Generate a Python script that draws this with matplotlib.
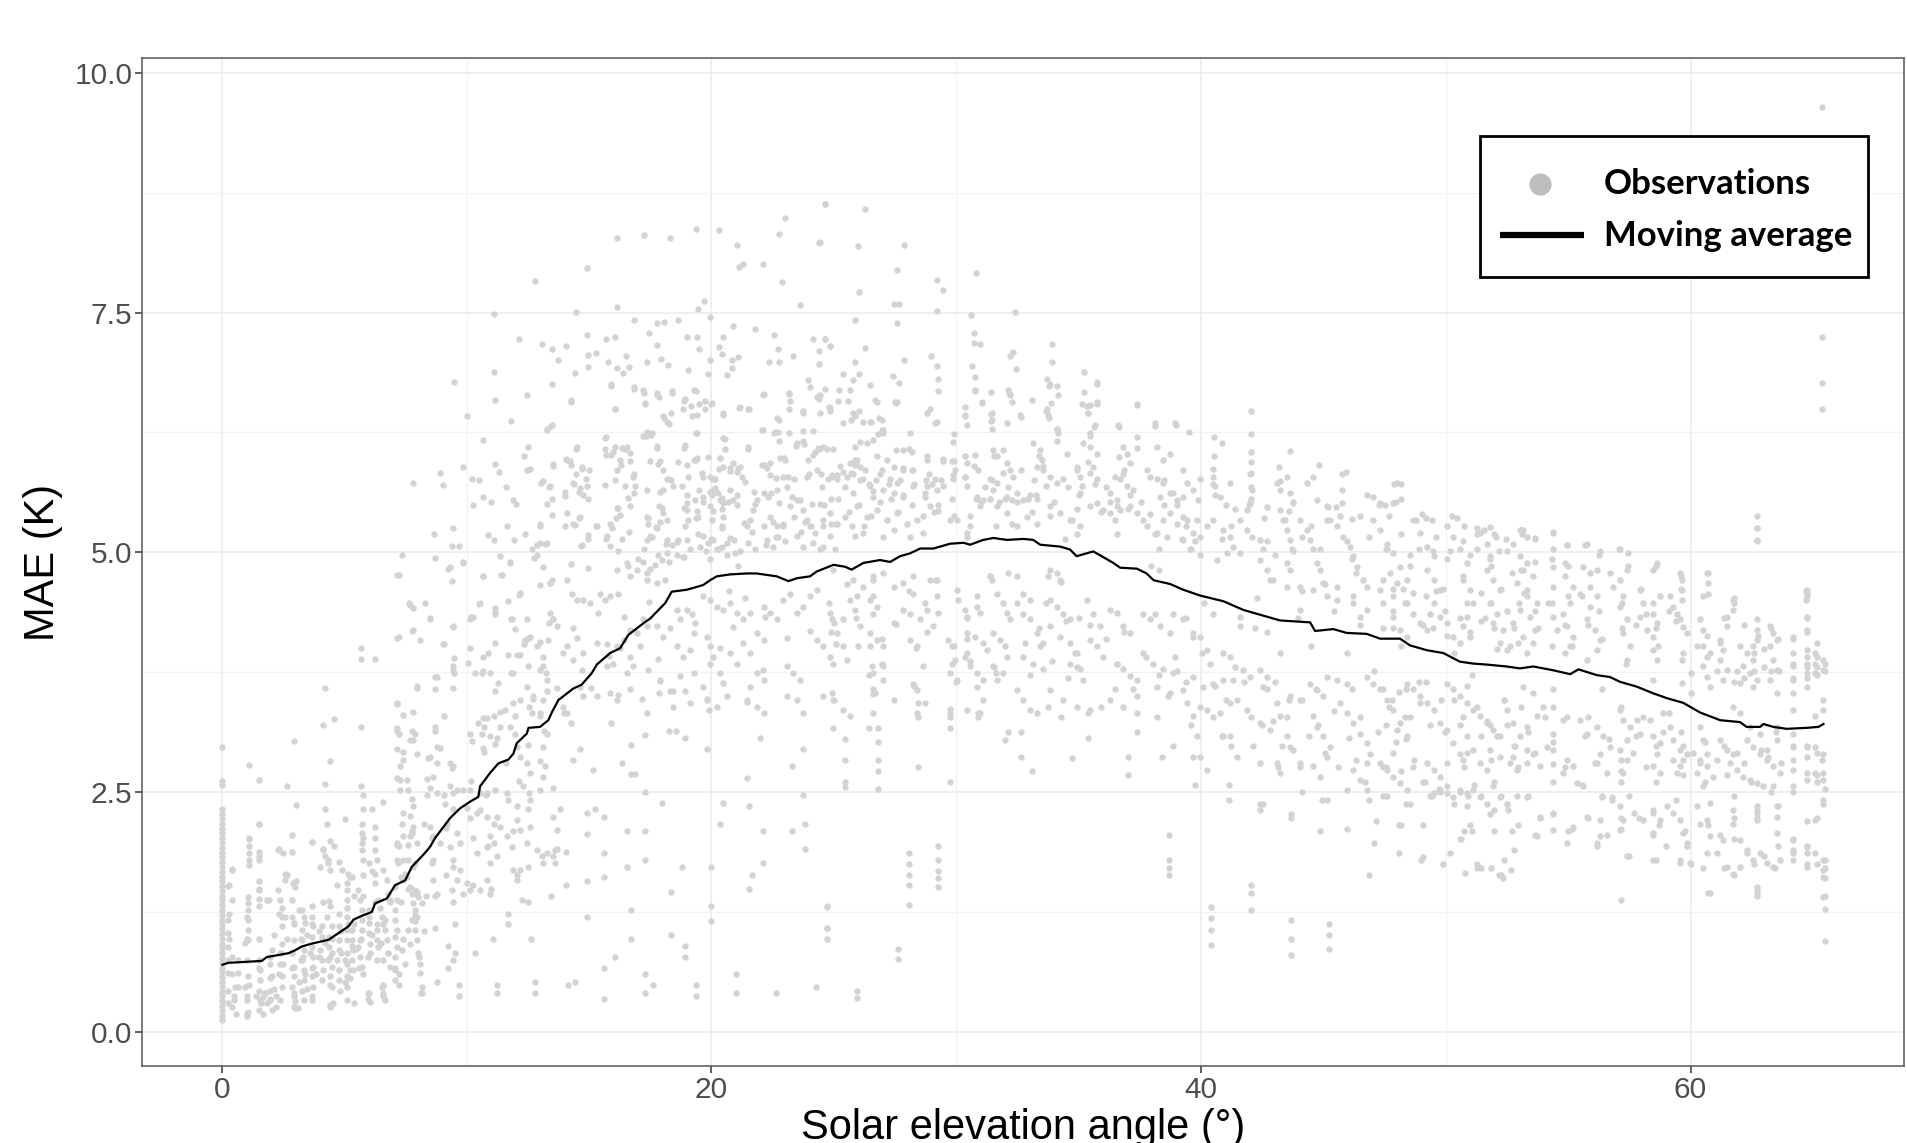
import numpy as np
import matplotlib
matplotlib.use("Agg")
import matplotlib.pyplot as plt
from matplotlib.lines import Line2D
from matplotlib.patches import Rectangle

# --- moving average ---
ma_x = [0.03, 0.27, 1.0, 1.63, 1.84, 2.72, 2.99, 3.27, 3.67, 4.36, 4.77, 5.17, 5.38, 5.72,
        6.13, 6.26, 6.74, 7.08, 7.49, 7.76, 8.28, 8.51, 8.71, 9.33, 9.73, 10.14, 10.48, 10.55,
        10.96, 11.3, 11.71, 11.91, 12.05, 12.46, 12.53, 13.0, 13.34, 13.48, 13.75, 14.36, 14.7,
        15.11, 15.32, 15.86, 16.27, 16.61, 17.22, 17.5, 17.84, 18.11, 18.38, 18.99, 19.27,
        19.67, 19.95, 20.22, 20.76, 21.44, 21.85, 22.67, 23.15, 23.49, 24.03, 24.3, 24.99,
        25.46, 25.73, 26.21, 26.89, 27.3, 27.71, 28.12, 28.53, 29.07, 29.75, 30.3, 30.57,
        31.11, 31.52, 32.07, 32.75, 33.15, 33.43, 34.25, 34.65, 34.92, 35.6, 36.42, 36.7,
        37.38, 37.78, 38.06, 38.74, 39.28, 39.96, 40.92, 41.73, 42.69, 43.23, 44.46, 44.66,
        45.41, 45.95, 46.77, 47.32, 48.13, 48.54, 49.22, 49.9, 50.58, 51.13, 51.67, 52.49,
        53.03, 53.58, 54.4, 55.08, 55.42, 56.17, 56.71, 57.12, 57.8, 58.48, 59.03, 59.71,
        60.39, 61.21, 62.02, 62.29, 62.84, 62.98, 63.38, 63.93, 64.74, 65.22, 65.43]
ma_y = [0.70, 0.72, 0.73, 0.74, 0.78, 0.82, 0.85, 0.89, 0.92, 0.96, 1.03, 1.10, 1.17, 1.21,
        1.25, 1.34, 1.39, 1.53, 1.58, 1.72, 1.86, 1.93, 2.02, 2.23, 2.33, 2.40, 2.45, 2.56,
        2.70, 2.80, 2.84, 2.90, 3.01, 3.11, 3.17, 3.18, 3.25, 3.33, 3.46, 3.58, 3.62,
        3.74, 3.83, 3.95, 4.00, 4.14, 4.26, 4.31, 4.40, 4.47, 4.59, 4.61, 4.63,
        4.66, 4.71, 4.75, 4.77, 4.78, 4.78, 4.75, 4.70, 4.73, 4.75, 4.80, 4.87,
        4.85, 4.82, 4.89, 4.92, 4.90, 4.96, 4.99, 5.04, 5.04, 5.09, 5.10, 5.08,
        5.13, 5.15, 5.13, 5.14, 5.13, 5.08, 5.06, 5.03, 4.96, 5.01, 4.89, 4.84,
        4.83, 4.78, 4.71, 4.67, 4.61, 4.55, 4.49, 4.40, 4.33, 4.29, 4.27, 4.18,
        4.20, 4.16, 4.15, 4.10, 4.10, 4.03, 3.98, 3.95, 3.86, 3.84, 3.83, 3.81,
        3.79, 3.81, 3.77, 3.73, 3.78, 3.72, 3.70, 3.65, 3.60, 3.53, 3.48, 3.43,
        3.33, 3.25, 3.23, 3.18, 3.18, 3.21, 3.18, 3.16, 3.17, 3.18, 3.21]

# --- observations: the solid streak at 0 degrees ---
obs_zero_y = [0.12, 0.17, 0.22, 0.27, 0.32, 0.37, 0.42, 0.47, 0.52, 0.57, 0.62, 0.67, 0.72,
              0.77, 0.82, 0.87, 0.92, 0.97, 1.02, 1.07, 1.12, 1.17, 1.22, 1.27, 1.32, 1.37,
              1.42, 1.47, 1.52, 1.57, 1.62, 1.67, 1.72, 1.77, 1.82, 1.87, 1.92, 1.97, 2.02,
              2.07, 2.12, 2.17, 2.22, 2.27, 2.32, 2.57, 2.62, 2.97]

# --- observations (x, y) by region of the plot ---
obs_upper_left = [
    (24.66, 8.63), (23.01, 8.49), (19.36, 8.37), (20.31, 8.36), (16.13, 8.28), (17.26, 8.31),
    (18.32, 8.28), (22.76, 8.32), (24.38, 8.23), (21.04, 8.20), (14.92, 7.97), (21.11, 7.98),
    (21.31, 8.01), (22.12, 8.01), (22.89, 7.82), (12.79, 7.83), (23.62, 7.58), (16.13, 7.56),
    (19.45, 7.54), (19.71, 7.62), (14.47, 7.51), (11.1, 7.49), (19.96, 7.45), (16.82, 7.42),
    (17.79, 7.39), (18.05, 7.40), (18.63, 7.42), (20.9, 7.36), (21.77, 7.33), (17.46, 7.29),
    (14.9, 7.27), (15.71, 7.23), (16.05, 7.25), (18.99, 7.25), (19.4, 7.25), (20.49, 7.25),
    (22.56, 7.27), (24.16, 7.23), (24.66, 7.23), (12.15, 7.22), (13.08, 7.17), (17.77, 7.16),
    (19.49, 7.12), (20.3, 7.14), (22.74, 7.12), (24.38, 7.1), (13.48, 7.12), (14.05, 7.15),
    (15.27, 7.08), (14.94, 7.06), (20.43, 7.07), (19.96, 7.01), (24.84, 7.15), (13.74, 7.01),
    (15.78, 6.99), (16.5, 7.05), (17.94, 7.02), (17.35, 6.98), (18.23, 6.95), (19.05, 6.90),
    (14.98, 6.93), (16.15, 6.92), (16.37, 6.87), (16.62, 6.93), (21.1, 7.04), (20.86, 7.01),
    (22.34, 6.99), (22.76, 6.99), (23.34, 7.05), (24.38, 6.96), (14.41, 6.87), (11.12, 6.88),
    (9.48, 6.78), (20.64, 6.85), (20.84, 6.92), (19.85, 6.86), (23.96, 6.80), (24.66, 6.70),
    (25.2, 6.69), (15.89, 6.73), (16.82, 6.70), (17.79, 6.64), (18.39, 6.66), (19.36, 6.68),
    (18.87, 6.58), (17.24, 6.66), (12.47, 6.64), (14.25, 6.57), (11.18, 6.59), (24.04, 6.72),
    (24.38, 6.60), (23.19, 6.65), (22.12, 6.64), (17.28, 6.55), (16.06, 6.49), (19.5, 6.55),
    (19.72, 6.49), (19.98, 6.55), (21.11, 6.51), (21.53, 6.49), (20.47, 6.43), (19.16, 6.53),
    (19.21, 6.42), (18.06, 6.40), (18.36, 6.45), (18.28, 6.34), (22.76, 6.38), (23.19, 6.50),
    (23.74, 6.45), (24.16, 6.27), (22.12, 6.28), (22.56, 6.24), (23.19, 6.24), (23.76, 6.27),
    (22.76, 6.16), (23.47, 6.11), (23.8, 6.13), (24.38, 6.08), (24.16, 6.02), (24.95, 6.08),
    (10.03, 6.42), (11.8, 6.37), (13.28, 6.28), (13.46, 6.32), (17.32, 6.21), (17.52, 6.22),
    (17.19, 6.21), (19.36, 6.24), (20.54, 6.18), (18.87, 6.09), (17.79, 6.09), (21.49, 6.08),
    (15.67, 6.19), (15.67, 6.08), (16.46, 6.08), (15.91, 6.02), (14.46, 6.08), (20.54, 6.08),
    (10.68, 6.17), (12.51, 6.1), (12.36, 6.0), (12.6, 5.87), (9.86, 5.89), (8.91, 5.83),
    (7.82, 5.72), (9.04, 5.70), (10.23, 5.76), (10.5, 5.75), (11.18, 5.92), (11.34, 5.84),
    (12.47, 5.86), (13.02, 5.72), (13.37, 5.68), (13.51, 5.90), (14.05, 5.97), (14.25, 5.91),
    (14.7, 5.87), (16.3, 5.91), (16.68, 6.04), (16.8, 5.79), (17.83, 5.92), (18.2, 5.76),
    (18.37, 5.75), (18.65, 5.94), (19.05, 5.79), (19.6, 5.83), (19.36, 5.96), (19.87, 5.99),
    (20.35, 5.98), (20.07, 5.76), (20.31, 5.87), (20.78, 5.85), (21.1, 5.88), (21.39, 5.73),
    (22.05, 5.91), (22.38, 5.81), (22.64, 5.78), (22.97, 5.98), (23.07, 5.68), (23.38, 5.77),
    (23.99, 5.82), (24.46, 5.82), (24.77, 5.77), (25.12, 5.81), (14.88, 5.77), (14.39, 5.71),
    (14.61, 5.63), (14.0, 5.59), (13.5, 5.56), (13.28, 5.50), (12.0, 5.50), (11.9, 5.55),
    (11.6, 5.68), (10.68, 5.58), (10.98, 5.53), (10.26, 5.49), (15.65, 5.70), (16.07, 5.75),
    (16.47, 5.69), (16.88, 5.69), (16.58, 5.57), (16.16, 5.46), (17.35, 5.65), (17.91, 5.63),
    (19.0, 5.60), (19.49, 5.65), (19.67, 5.53), (20.07, 5.65), (20.36, 5.55), (20.67, 5.53),
    (20.45, 5.45), (21.04, 5.49), (21.75, 5.63), (21.78, 5.50), (22.43, 5.62), (22.78, 5.51),
    (23.29, 5.58), (23.62, 5.55), (24.11, 5.50), (24.44, 5.50), (24.9, 5.56), (13.0, 5.28),
    (11.65, 5.27), (10.87, 5.18), (11.12, 5.13), (11.93, 5.13), (12.38, 5.19), (8.68, 5.19),
    (9.45, 5.25), (9.41, 5.07), (9.68, 5.07), (7.36, 4.97), (8.71, 4.94), (9.26, 4.83),
    (7.16, 4.76), (9.86, 4.89), (10.68, 4.75), (11.38, 4.96), (11.42, 4.76), (11.78, 4.89),
    (12.66, 5.04), (12.77, 4.94), (13.0, 5.10), (13.28, 5.10), (14.03, 5.28), (14.41, 5.29),
    (14.61, 5.36), (15.29, 5.27), (14.98, 5.14), (14.68, 5.07), (14.28, 4.88), (14.98, 4.84),
    (15.69, 5.14), (15.84, 5.07), (16.09, 5.36), (16.33, 5.14), (16.62, 5.21), (16.2, 5.01),
    (16.58, 4.86), (16.99, 4.93), (17.26, 5.04), (17.41, 5.36), (17.57, 5.16), (17.75, 5.26),
    (17.9, 5.32), (17.83, 4.97), (17.39, 4.79), (18.2, 5.13), (18.27, 4.90), (18.63, 5.13),
    (18.9, 5.46), (18.87, 4.95), (19.14, 5.04), (19.36, 5.36), (19.45, 5.19), (19.55, 5.06),
    (19.79, 5.01), (20.0, 5.14), (19.93, 4.93), (20.29, 5.04), (20.45, 5.25), (20.64, 4.97),
    (20.92, 5.13), (21.1, 4.86), (21.33, 5.31), (21.64, 5.21), (21.77, 5.04), (22.15, 5.27),
    (22.23, 5.08), (22.52, 5.32), (22.64, 5.16), (22.91, 5.27), (23.0, 5.12), (23.38, 5.37),
    (23.65, 5.21), (23.83, 5.32), (24.07, 5.27), (24.42, 5.04), (24.58, 5.28), (24.9, 5.30),
    (25.05, 5.04),
]

obs_lower_left = [
    (0.4, 1.70), (0.31, 1.53), (0.4, 1.38), (0.31, 1.23), (0.3, 0.97), (0.4, 0.78), (0.4, 0.60),
    (0.5, 0.37), (0.58, 0.19), (1.04, 0.17), (1.04, 0.37), (1.13, 0.49), (1.04, 0.75),
    (1.04, 0.97), (1.04, 1.20), (1.13, 1.74), (1.13, 2.02), (1.13, 2.78), (1.5, 2.63),
    (1.5, 2.17), (1.5, 1.83), (1.5, 1.49), (1.5, 0.97), (1.5, 0.67), (1.59, 0.30), (1.77, 0.41),
    (1.95, 0.34), (2.13, 0.45), (2.22, 0.26), (1.95, 0.78), (1.86, 1.38), (2.32, 1.91),
    (2.32, 1.23), (2.41, 0.82), (2.32, 0.60), (2.68, 2.56), (2.68, 1.64), (2.68, 0.97),
    (2.86, 0.67), (2.95, 0.41), (2.95, 0.26), (3.05, 2.37), (2.95, 3.03), (3.05, 1.57),
    (3.14, 1.27), (3.23, 0.97), (3.32, 0.78), (3.41, 0.60), (3.5, 0.45), (3.68, 1.98),
    (3.68, 1.12), (3.68, 0.67), (3.68, 0.37), (4.14, 3.20), (4.23, 3.59), (4.23, 2.58),
    (4.23, 2.32), (4.14, 1.91), (4.32, 1.76), (4.14, 1.35), (4.23, 0.93), (4.5, 0.82),
    (4.41, 0.49), (4.41, 0.26), (4.59, 3.26), (4.41, 2.82), (4.59, 1.94), (4.69, 1.53),
    (4.78, 1.23), (4.87, 1.05), (5.05, 0.75), (5.05, 0.52), (5.05, 2.22), (5.24, 1.61),
    (5.41, 1.42), (5.41, 1.12), (5.5, 0.86), (5.78, 0.60), (5.96, 0.41), (5.96, 0.34),
    (5.69, 4.0), (5.69, 3.89), (5.69, 3.18), (5.69, 2.56), (5.78, 2.47), (5.78, 2.32),
    (5.78, 2.02), (5.78, 1.79), (5.78, 1.64), (5.78, 1.42), (6.24, 3.89), (6.15, 2.32),
    (6.15, 1.68), (6.24, 1.35), (6.33, 1.12), (6.51, 0.93), (6.6, 0.75), (6.6, 0.49),
    (6.6, 0.37), (6.6, 2.40), (7.15, 4.11), (7.15, 3.42), (7.15, 3.14), (7.15, 2.95),
    (7.15, 2.65), (7.24, 1.94), (7.33, 1.61), (7.33, 1.35), (7.42, 0.97), (7.24, 0.60),
    (7.24, 0.49), (7.69, 4.45), (7.78, 4.18), (7.78, 3.14), (7.78, 2.43), (7.78, 2.09),
    (7.88, 1.76), (7.97, 1.46), (7.97, 1.20), (8.06, 0.78), (8.15, 0.41), (7.97, 3.59),
    (8.51, 4.32), (8.42, 2.86), (8.51, 2.54), (8.6, 2.02), (8.6, 1.76), (8.7, 3.70),
    (8.7, 3.14), (8.7, 1.42), (8.7, 1.08), (8.79, 0.52), (9.07, 4.04), (9.07, 3.29),
    (9.07, 2.47), (9.15, 2.13), (9.15, 1.64), (9.24, 0.90), (9.24, 0.67), (9.43, 4.22),
    (9.43, 3.81), (9.43, 3.59), (9.43, 2.77), (9.43, 2.32), (9.43, 1.35), (9.52, 1.12),
    (9.52, 0.82), (9.7, 0.49), (9.7, 0.37), (10.06, 3.85), (10.16, 4.33), (10.16, 2.62),
    (10.25, 2.02), (10.25, 1.53), (10.34, 0.82), (10.52, 4.46), (10.61, 3.74), (10.7, 3.18),
    (10.7, 2.92), (10.79, 2.47), (10.88, 1.94), (10.98, 1.49), (11.07, 0.97), (11.25, 0.41),
    (11.25, 0.49), (11.16, 3.55), (11.16, 4.37), (11.25, 3.06), (11.25, 2.24), (11.61, 2.80),
    (11.7, 1.23), (11.7, 1.12), (11.8, 4.30), (11.8, 3.74), (11.89, 2.09), (11.98, 3.29),
    (12.07, 1.64), (12.16, 4.56), (12.16, 2.62), (12.25, 1.38), (12.34, 4.04), (12.52, 4.11),
    (12.52, 3.81), (12.52, 2.99), (12.52, 2.32), (12.52, 1.72), (12.52, 1.35), (12.62, 0.97),
    (12.8, 0.52), (12.8, 0.41), (12.71, 3.47), (12.98, 2.82), (13.07, 1.83), (13.16, 3.14),
    (13.25, 3.74), (13.35, 4.26), (13.44, 1.42), (13.53, 2.54), (13.71, 3.59), (13.71, 1.91),
    (13.8, 2.32), (13.98, 3.33), (14.07, 1.88), (14.07, 1.53), (14.16, 0.49), (14.26, 3.22),
    (14.34, 2.84), (14.44, 0.52), (14.53, 4.11), (14.62, 2.95), (14.71, 3.77), (14.9, 2.28),
    (14.9, 2.06), (14.9, 1.57), (14.9, 1.20), (15.08, 3.59), (15.17, 2.73), (15.26, 2.32),
    (15.35, 4.37), (15.63, 2.24), (15.63, 1.87), (15.63, 1.61), (15.63, 0.67), (15.63, 0.34),
    (15.72, 4.04), (15.81, 3.92), (15.9, 3.22), (16.08, 0.78), (16.17, 3.51), (16.26, 4.0),
    (16.35, 2.80), (16.45, 4.33), (16.54, 2.09), (16.54, 1.72), (16.72, 2.99), (16.72, 2.69),
    (16.72, 1.27), (16.72, 0.97), (16.81, 3.81), (16.9, 2.69), (17.18, 3.47), (17.27, 3.10),
    (17.27, 2.50), (17.27, 2.09), (17.27, 1.79), (17.27, 0.60), (17.27, 0.41), (17.45, 4.48),
    (17.63, 0.49), (17.81, 3.89), (17.9, 3.66), (17.99, 2.39), (18.27, 3.14), (18.36, 1.46),
    (18.36, 1.01), (18.45, 3.55), (18.54, 3.14), (18.82, 1.72), (18.91, 0.90), (18.91, 0.78),
    (18.91, 3.55), (18.91, 3.06), (19.27, 3.74), (19.36, 0.49), (19.36, 0.37), (19.82, 3.47),
    (19.82, 2.95), (19.9, 3.36), (19.99, 1.72), (19.99, 1.31), (19.99, 1.16), (20.37, 4.0),
    (20.37, 2.17), (20.46, 2.39), (21.0, 0.60), (21.0, 0.41), (21.46, 3.44), (21.46, 2.65),
    (21.55, 2.35), (21.64, 1.64), (21.55, 1.49), (22.0, 3.06), (22.1, 2.09), (22.1, 1.76),
    (22.1, 3.77), (22.64, 0.41), (23.29, 2.77), (23.29, 2.09), (23.74, 2.95), (23.74, 2.47),
    (23.83, 2.17), (23.83, 1.91), (24.29, 0.47), (24.74, 1.31), (24.74, 1.08), (21.37, 4.52),
    (22.19, 4.33), (23.1, 4.11), (24.01, 4.18), (24.92, 4.30), (25.1, 4.04), (20.9, 4.22),
    (20.7, 4.60), (0.95, 0.93), (1.4, 0.37), (1.68, 0.36), (1.95, 0.56), (2.13, 1.01),
    (2.22, 0.37), (2.5, 0.71), (2.59, 1.20), (2.86, 0.82), (2.95, 1.12), (3.14, 0.52),
    (3.23, 0.75), (3.5, 1.01), (3.59, 0.82), (3.86, 0.60), (3.96, 0.78), (3.96, 1.05),
    (4.32, 0.75), (4.5, 0.97), (4.78, 0.64), (4.87, 0.82), (5.14, 1.12), (5.23, 0.64),
    (5.32, 0.90), (5.6, 0.67), (5.69, 0.97), (5.96, 0.78), (6.15, 1.01), (6.33, 0.75),
    (6.6, 1.12), (6.78, 0.82), (6.87, 1.35), (7.06, 0.67), (7.6, 1.49), (7.88, 1.16),
    (8.24, 1.05), (8.33, 1.42), (9.43, 0.75), (5.23, 0.56), (5.41, 0.30),
]

obs_low_cluster = [
    (1.50, 2.17), (2.88, 2.05), (3.70, 1.98), (4.29, 2.17), (1.1, 2.01), (1.1, 1.94), (1.1, 1.86),
    (1.1, 1.79), (1.5, 1.88), (1.5, 1.79), (2.31, 1.90), (2.48, 1.86), (2.88, 1.88), (4.15, 1.90),
    (4.21, 1.83), (4.35, 1.79), (4.77, 1.77), (5.17, 1.65), (4.42, 1.99), (5.72, 2.17),
    (5.72, 2.07), (5.72, 1.97), (5.72, 1.90), (6.26, 2.14), (6.26, 2.02), (6.26, 1.90),
    (6.33, 1.79), (6.26, 1.65), (0.41, 1.69), (0.27, 1.52), (1.5, 1.57), (1.5, 1.48),
    (2.59, 1.65), (2.59, 1.58), (2.92, 1.55), (3.0, 1.51), (1.91, 1.38), (1.09, 1.41),
    (1.09, 1.34), (1.09, 1.27), (1.09, 1.17), (1.09, 1.06), (1.09, 0.96), (1.5, 1.39),
    (1.5, 1.31), (2.31, 1.48), (2.38, 1.38), (2.45, 1.29), (2.45, 1.20), (2.45, 1.10),
    (2.86, 1.38), (2.86, 1.20), (2.93, 1.13), (3.27, 1.27), (3.34, 1.20), (3.4, 1.13),
    (3.67, 1.31), (3.67, 1.20), (3.74, 1.10), (4.36, 1.36), (4.42, 1.31), (4.29, 1.20),
    (4.49, 1.10), (4.77, 1.10), (5.1, 1.55), (5.1, 1.48), (5.1, 1.38), (5.1, 1.29), (5.1, 1.20),
    (5.58, 1.48), (5.65, 1.38), (5.72, 1.27), (5.72, 1.17), (6.0, 1.27), (6.0, 1.20),
    (6.4, 1.38), (6.47, 1.29), (6.53, 1.20), (6.8, 1.44), (6.87, 1.38), (7.08, 1.51),
    (7.14, 1.38), (7.42, 1.58), (7.49, 1.65), (7.76, 1.44), (7.83, 1.34), (7.9, 1.27),
    (7.76, 1.17), (7.9, 1.06), (7.97, 0.96), (8.03, 0.82), (8.1, 0.71), (8.1, 0.61),
    (8.17, 0.47), (8.17, 0.40), (7.08, 1.27), (7.08, 1.17), (7.14, 1.06), (6.67, 1.17),
    (6.67, 1.06), (6.74, 0.96), (6.33, 1.06), (6.33, 0.96), (6.4, 0.89), (6.0, 1.13),
    (6.0, 1.03), (6.06, 0.92), (6.06, 0.82), (5.72, 1.06), (5.65, 0.96), (5.58, 0.89),
    (5.65, 0.78), (5.72, 0.68), (5.31, 1.06), (5.31, 0.96), (5.38, 0.85), (5.31, 0.75),
    (5.38, 0.65), (5.1, 1.06), (5.1, 0.96), (5.1, 0.82), (5.1, 0.71), (5.1, 0.58), (5.1, 0.47),
    (5.1, 0.33), (4.77, 0.96), (4.77, 0.85), (4.7, 0.75), (4.77, 0.65), (4.77, 0.54),
    (4.83, 0.43), (4.36, 0.99), (4.36, 0.89), (4.42, 0.78), (4.49, 0.68), (4.42, 0.58),
    (4.49, 0.47), (4.42, 0.28), (4.08, 1.10), (4.08, 0.99), (4.01, 0.85), (4.08, 0.75),
    (4.15, 0.65), (4.08, 0.54), (3.67, 0.99), (3.67, 0.89), (3.74, 0.78), (3.74, 0.68),
    (3.67, 0.58), (3.74, 0.47), (3.67, 0.33), (3.27, 1.06), (3.27, 0.96), (3.34, 0.85),
    (3.27, 0.75), (3.34, 0.65), (3.34, 0.54), (3.27, 0.43), (3.34, 0.33), (2.93, 0.96),
    (2.86, 0.82), (2.93, 0.68), (2.93, 0.58), (2.86, 0.47), (2.93, 0.37), (3.0, 0.25),
    (2.45, 0.92), (2.38, 0.82), (2.38, 0.71), (2.45, 0.58), (2.45, 0.47), (2.38, 0.33),
    (2.04, 0.85), (1.97, 0.71), (2.04, 0.58), (1.97, 0.43), (1.97, 0.33), (2.04, 0.23),
    (1.5, 0.75), (1.56, 0.65), (1.56, 0.54), (1.5, 0.43), (1.56, 0.33), (1.5, 0.23),
    (1.09, 0.58), (0.95, 0.47), (1.02, 0.33), (1.09, 0.21), (0.54, 0.47), (0.48, 0.33),
    (0.41, 0.26), (0.27, 1.17), (0.27, 1.03), (0.27, 0.89), (0.27, 0.75), (0.27, 0.61),
    (0.27, 0.43), (0.27, 0.30), (0.68, 0.75), (0.68, 0.61), (0.68, 0.47), (1.77, 0.40),
    (1.84, 0.30), (1.70, 0.19), (1.02, 0.19), (3.0, 0.32), (3.13, 0.25), (4.56, 0.30),
    (6.0, 0.40), (6.06, 0.31), (6.53, 0.47), (6.6, 0.40), (6.67, 0.33), (7.08, 0.65),
    (7.08, 0.54), (7.35, 0.85), (7.49, 0.71), (7.08, 0.78), (7.9, 1.48), (8.03, 1.41),
    (8.17, 1.34), (7.9, 1.22), (7.62, 1.06), (7.69, 0.92), (7.08, 0.99), (7.14, 0.89),
    (6.8, 0.82), (6.87, 0.68), (6.0, 1.76), (6.26, 1.55), (6.6, 1.69), (6.74, 1.58),
    (7.21, 1.76), (7.62, 1.79), (7.14, 1.95), (7.62, 1.95), (7.76, 2.07), (7.35, 2.17),
    (4.9, 1.69), (5.31, 1.62), (4.01, 1.72), (4.42, 1.69),
]

obs_rise = [
    (7.22, 4.76), (9.33, 4.85), (9.39, 4.7), (9.87, 4.9), (10.69, 4.75), (11.44, 4.76),
    (11.78, 4.9), (12.19, 4.58), (13.0, 4.66), (13.41, 4.68), (13.48, 4.71), (7.66, 4.47),
    (7.83, 4.42), (8.3, 4.47), (8.51, 4.31), (7.83, 4.19), (7.22, 4.12), (8.1, 4.09),
    (9.05, 4.04), (9.46, 4.23), (9.49, 3.9), (9.46, 3.77), (9.49, 3.74), (8.78, 3.7),
    (8.71, 3.57), (7.96, 3.61), (10.14, 4.31), (10.28, 4.33), (10.55, 4.47), (11.16, 4.42),
    (11.16, 4.36), (11.71, 4.49), (10.14, 4.0), (10.69, 3.91), (10.89, 3.95), (11.16, 4.05),
    (11.71, 3.93), (12.05, 3.93), (12.19, 3.93), (11.84, 4.31), (11.98, 4.2), (12.46, 4.3),
    (12.39, 4.09), (12.59, 4.12), (13.0, 4.07), (13.34, 4.09), (13.55, 4.3), (10.35, 3.74),
    (10.69, 3.76), (10.96, 3.74), (11.3, 3.64), (11.91, 3.74), (12.46, 3.6), (13.0, 3.77),
    (13.14, 3.81), (13.27, 3.67), (13.27, 3.55), (12.73, 3.5), (12.53, 3.39), (12.66, 3.32),
    (7.15, 3.43), (7.42, 3.3), (7.83, 3.34), (7.9, 3.11), (7.15, 3.17), (7.22, 3.11),
    (7.69, 3.04), (7.83, 3.04), (7.96, 2.9), (7.42, 2.92), (7.42, 2.83), (7.28, 2.77),
    (7.28, 2.63), (7.28, 2.52), (7.62, 2.52), (7.56, 2.63), (8.71, 3.18), (8.78, 2.97),
    (8.92, 2.96), (8.51, 2.87), (8.37, 2.64), (8.64, 2.66), (8.78, 2.8), (9.33, 2.8),
    (9.39, 2.75), (9.33, 2.56), (9.6, 2.52), (9.87, 2.52), (10.14, 2.52), (10.01, 2.33),
    (10.14, 2.23), (9.46, 2.49), (9.12, 2.38), (10.14, 3.11), (10.21, 3.03), (10.48, 3.22),
    (10.62, 3.11), (10.69, 2.96), (10.96, 3.08), (11.16, 3.0), (10.69, 3.27), (10.82, 3.27),
    (11.1, 3.29), (11.37, 3.34), (11.57, 3.36), (11.91, 3.43), (12.19, 3.46), (11.37, 3.18),
    (11.78, 3.18), (11.98, 3.11), (12.05, 2.97), (12.19, 2.87), (12.46, 2.8), (12.59, 2.7),
    (13.0, 3.29), (13.27, 3.11), (13.14, 2.97), (13.21, 2.77), (13.14, 2.66), (13.0, 2.52),
    (12.32, 2.56), (12.53, 2.49), (12.59, 2.42), (10.55, 2.49), (10.82, 2.49), (11.16, 2.52),
    (11.64, 2.49), (11.71, 2.42), (10.42, 2.28), (10.55, 2.31), (10.82, 2.24), (11.1, 2.17),
    (11.37, 2.14), (10.96, 2.04), (12.05, 2.35), (12.05, 2.21), (12.19, 2.11), (12.59, 2.14),
    (11.64, 2.04), (11.84, 1.93), (11.91, 1.69), (12.19, 1.69), (12.05, 1.58), (13.55, 2.24),
    (13.69, 2.11), (13.62, 1.9), (13.55, 1.83), (13.62, 1.76), (13.14, 1.76), (7.15, 1.79),
    (7.42, 1.79), (7.56, 1.62), (7.83, 1.72), (7.69, 1.51), (7.96, 1.44), (8.64, 1.79),
    (8.64, 1.58), (8.78, 1.44), (9.46, 1.79), (9.46, 1.72), (9.73, 1.69), (9.6, 1.58),
    (9.39, 1.48), (10.01, 1.55), (10.14, 1.48), (10.55, 1.48), (10.96, 1.44), (10.82, 1.58),
    (9.87, 1.44), (8.51, 2.14), (8.64, 2.04), (8.92, 1.97), (9.19, 2.17), (9.6, 2.07),
    (9.73, 1.97), (9.33, 1.93), (7.83, 2.14), (7.69, 2.04), (7.96, 1.97), (7.42, 2.04),
    (7.15, 1.97), (7.42, 2.28), (7.83, 2.35), (8.24, 2.17), (8.78, 2.49), (8.37, 2.47),
    (7.69, 2.25), (10.82, 1.93), (11.1, 1.97), (10.42, 1.86), (10.96, 1.76), (11.23, 1.83),
    (12.46, 1.97), (12.86, 1.9), (13.27, 1.86),
]

obs_knee = [
    (13.48, 6.76), (15.9, 6.76), (16.82, 6.72), (17.2, 6.69), (17.77, 6.66), (17.84, 6.62),
    (18.38, 6.68), (18.93, 6.6), (19.27, 6.69), (19.74, 6.58), (20.01, 6.56), (20.49, 6.45),
    (21.15, 6.52), (21.51, 6.50), (22.13, 6.65), (23.19, 6.66), (23.22, 6.58), (23.76, 6.47),
    (24.3, 6.62), (24.44, 6.64), (24.82, 6.52), (24.85, 6.47), (25.67, 6.69), (14.26, 6.59),
    (16.07, 6.5), (17.29, 6.56), (18.04, 6.42), (18.18, 6.36), (18.86, 6.50), (19.4, 6.43),
    (22.67, 6.40), (25.39, 6.35), (13.3, 6.29), (13.48, 6.33), (15.7, 6.2), (16.07, 6.1),
    (15.7, 6.02), (15.97, 6.05), (16.34, 6.09), (16.54, 6.1), (16.68, 5.95), (16.27, 5.96),
    (14.5, 6.1), (14.09, 5.96), (14.23, 5.95), (13.55, 5.92), (14.7, 5.89), (15.0, 5.86),
    (14.47, 5.82), (14.36, 5.72), (16.13, 5.86), (16.82, 5.82), (17.36, 6.26), (17.56, 6.24),
    (17.77, 6.11), (17.5, 5.95), (17.9, 5.95), (18.04, 5.86), (18.24, 5.77), (18.93, 6.12),
    (19.0, 5.91), (19.27, 5.96), (19.4, 5.98), (19.67, 5.79), (19.95, 5.79), (20.15, 5.76),
    (20.36, 5.98), (20.49, 5.89), (19.4, 6.24), (20.49, 6.19), (21.51, 6.1), (21.17, 5.89),
    (21.04, 5.84), (21.24, 5.79), (20.76, 5.88), (20.9, 5.93), (22.13, 5.91), (22.26, 5.88),
    (22.4, 5.93), (22.81, 5.98), (23.01, 5.96), (22.94, 5.79), (23.49, 6.14), (23.76, 6.16),
    (22.6, 6.26), (22.74, 6.26), (24.24, 6.05), (24.37, 6.09), (24.58, 6.1), (24.92, 5.81),
    (25.12, 5.76), (25.39, 5.84), (25.53, 5.79), (25.67, 5.93), (25.87, 5.91), (22.06, 6.28),
    (23.15, 5.79), (23.9, 5.79), (24.3, 5.86), (25.87, 5.96), (23.96, 5.96), (13.14, 5.74),
    (13.41, 5.69), (14.02, 5.63), (14.64, 5.67), (14.91, 5.69), (14.77, 5.6), (14.98, 5.56),
    (14.09, 5.41), (14.36, 5.3), (14.64, 5.37), (13.48, 5.39), (13.0, 5.3), (15.32, 5.27),
    (15.86, 5.3), (15.93, 5.25), (16.2, 5.46), (16.27, 5.39), (16.68, 5.48), (15.73, 5.17),
    (14.98, 5.18), (14.7, 5.08), (13.21, 5.09), (12.87, 5.08), (16.82, 5.62), (17.36, 5.37),
    (17.43, 5.3), (17.84, 5.48), (17.97, 5.46), (18.04, 5.41), (18.18, 5.34), (17.5, 5.17),
    (17.36, 5.13), (17.77, 5.25), (18.15, 5.09), (18.38, 5.08), (18.59, 5.11), (18.99, 5.13),
    (18.93, 5.27), (19.06, 5.34), (18.99, 5.44), (18.99, 5.51), (19.33, 5.55), (19.4, 5.43),
    (19.47, 5.37), (19.67, 5.58), (19.95, 5.63), (20.01, 5.6), (20.15, 5.67), (20.29, 5.62),
    (20.42, 5.57), (20.49, 5.51), (20.76, 5.65), (20.9, 5.55), (21.04, 5.6), (19.95, 5.48),
    (20.08, 5.43), (20.01, 5.34), (20.49, 5.37), (20.42, 5.27), (19.67, 5.17), (19.88, 5.1),
    (20.08, 5.13), (20.22, 5.04), (20.42, 5.06), (20.63, 5.1), (20.76, 5.15), (20.97, 4.99),
    (21.17, 5.01), (21.44, 5.27), (21.58, 5.34), (21.72, 5.44), (21.85, 5.55), (22.13, 5.62),
    (22.33, 5.58), (22.67, 5.65), (22.4, 5.37), (22.67, 5.27), (22.94, 5.3), (22.74, 5.16),
    (23.22, 5.48), (23.49, 5.55), (23.76, 5.44), (23.9, 5.34), (24.03, 5.27), (24.24, 5.2),
    (24.17, 5.1), (24.58, 5.34), (24.85, 5.41), (25.12, 5.3), (25.46, 5.37), (25.73, 5.27),
    (25.87, 5.17), (24.85, 5.17), (24.58, 5.06), (23.49, 5.17), (23.76, 5.06), (22.26, 5.13),
    (22.53, 5.06), (21.51, 5.1), (18.04, 5.65), (18.45, 5.69), (18.79, 5.69), (12.87, 4.97),
    (13.14, 4.85), (13.41, 4.68), (14.09, 4.71), (14.3, 4.57), (14.5, 4.5), (14.77, 4.5),
    (15.04, 4.47), (15.45, 4.57), (15.66, 4.5), (15.86, 4.54), (16.2, 4.57), (16.68, 4.75),
    (16.95, 4.82), (16.13, 4.82), (16.54, 4.89), (17.22, 4.9), (17.5, 4.83), (17.7, 4.87),
    (17.97, 4.92), (18.18, 4.99), (18.59, 4.97), (18.86, 4.95), (17.36, 4.71), (17.77, 4.68),
    (18.11, 4.71), (13.41, 4.37), (13.55, 4.3), (13.68, 4.23), (14.36, 4.21), (12.87, 4.02),
    (13.14, 3.91), (13.95, 3.95), (14.09, 4.02), (14.36, 3.88), (14.77, 3.95), (15.32, 4.05),
    (15.73, 3.81), (15.99, 3.84), (16.13, 4.02), (16.41, 4.09), (16.68, 4.19), (16.95, 4.16),
    (17.22, 4.3), (17.36, 4.23), (16.68, 3.91), (17.09, 4.02), (17.77, 4.23), (18.04, 4.12),
    (18.31, 4.21), (18.59, 4.4), (18.72, 4.3), (18.99, 4.4), (19.2, 4.36), (19.33, 4.26),
    (19.27, 4.16), (19.67, 4.54), (19.95, 4.5), (20.22, 4.43), (20.49, 4.4), (20.76, 4.47),
    (18.59, 4.02), (18.86, 3.91), (19.13, 3.98), (19.81, 4.12), (19.95, 4.02), (20.08, 3.91),
    (19.95, 3.84), (20.36, 3.74), (20.49, 3.64), (20.63, 3.5), (20.22, 3.39), (19.67, 3.6),
    (19.81, 3.46), (18.72, 3.71), (18.31, 3.55), (18.45, 3.39), (19.13, 3.43), (17.9, 3.67),
    (17.84, 3.53), (17.36, 3.32), (17.43, 3.77), (16.54, 3.74), (16.68, 3.57), (15.86, 3.53),
    (16.13, 3.46), (15.32, 3.5), (14.64, 3.6), (14.77, 3.5), (13.95, 3.39), (14.09, 3.32),
    (13.14, 3.46), (13.0, 3.32), (21.04, 4.37), (21.31, 4.3), (21.58, 4.37), (22.13, 4.43),
    (22.4, 4.37), (22.67, 4.3), (21.85, 4.16), (22.13, 4.09), (22.94, 4.5), (23.22, 4.57),
    (23.49, 4.37), (23.76, 4.43), (24.03, 4.54), (24.3, 4.61), (24.85, 4.37), (24.99, 4.26),
    (25.12, 4.16), (25.39, 4.3), (25.67, 4.5), (25.87, 4.4), (24.3, 4.09), (24.58, 4.02),
    (24.85, 3.91), (25.39, 4.02), (25.53, 3.88), (21.31, 4.05), (21.58, 3.95), (20.76, 3.95),
    (21.04, 3.84), (21.85, 3.74), (22.13, 3.67), (21.58, 3.6), (23.08, 3.81), (23.35, 3.74),
    (23.62, 3.67), (21.44, 3.46), (21.85, 3.39), (22.13, 3.32), (23.08, 3.5), (23.49, 3.46),
    (24.58, 3.5), (24.92, 3.53), (24.99, 3.46), (23.76, 3.32), (25.39, 3.36), (25.67, 3.29),
]

obs_peak = [
    (25.8, 6.45), (26.01, 6.47), (26.48, 6.36), (26.96, 6.38), (27.03, 6.28), (27.5, 6.57),
    (27.57, 6.57), (26.69, 6.59), (28.8, 6.45), (29.21, 6.36), (28.93, 6.50), (29.27, 6.68),
    (30.36, 6.52), (30.36, 6.43), (30.43, 6.33), (30.77, 6.69), (31.04, 6.57), (31.45, 6.45),
    (31.45, 6.38), (31.45, 6.29), (32.13, 6.69), (32.2, 6.64), (32.27, 6.57), (32.07, 6.35),
    (32.61, 6.43), (33.09, 6.59), (33.7, 6.5), (33.77, 6.43), (33.84, 6.76), (34.18, 6.64),
    (34.11, 6.29), (34.18, 6.24), (35.13, 6.55), (35.47, 6.54), (35.74, 6.57), (35.4, 6.45),
    (35.67, 6.33), (35.74, 6.78), (36.63, 6.33), (37.38, 6.55), (38.12, 6.35), (38.94, 6.35),
    (25.87, 6.1), (26.07, 6.15), (26.35, 6.14), (26.62, 6.17), (26.96, 6.28), (27.03, 6.24),
    (25.94, 5.96), (26.07, 5.89), (25.8, 5.82), (26.21, 5.76), (26.48, 5.69), (26.75, 6.0),
    (26.89, 5.82), (27.16, 5.96), (27.44, 5.89), (27.3, 5.76), (27.57, 5.72), (27.44, 5.62),
    (27.03, 5.65), (26.62, 5.58), (27.84, 6.07), (28.18, 6.05), (28.25, 5.86), (27.84, 5.86),
    (28.12, 6.24), (28.25, 5.69), (27.84, 5.58), (28.8, 5.96), (28.87, 5.82), (28.8, 5.69),
    (28.73, 5.62), (29.14, 5.76), (29.21, 5.65), (29.48, 5.69), (29.48, 5.95), (29.82, 5.95),
    (29.96, 5.86), (29.89, 5.76), (29.89, 6.15), (30.36, 6.0), (30.43, 5.93), (30.77, 6.02),
    (30.91, 5.86), (30.36, 5.79), (30.43, 5.69), (30.84, 5.58), (31.11, 5.55), (31.39, 5.56),
    (31.52, 6.07), (31.66, 6.0), (31.93, 6.07), (32.07, 5.93), (32.2, 5.86), (32.34, 5.79),
    (31.39, 5.76), (31.66, 5.72), (31.52, 5.65), (32.07, 5.58), (32.27, 5.55), (32.47, 5.62),
    (32.75, 5.55), (33.02, 5.6), (33.29, 5.56), (33.15, 6.14), (33.43, 6.07), (33.5, 5.96),
    (33.29, 5.89), (33.56, 5.86), (33.84, 5.79), (34.11, 5.72), (34.38, 5.76), (34.52, 6.03),
    (34.92, 5.89), (35.06, 5.79), (35.13, 5.69), (35.06, 5.62), (35.47, 6.24), (35.47, 6.1),
    (35.74, 6.03), (35.6, 5.89), (35.74, 5.76), (35.47, 5.48), (35.74, 5.51), (36.01, 5.44),
    (36.29, 5.41), (36.56, 5.48), (36.83, 6.1), (36.97, 6.03), (37.1, 5.93), (36.83, 5.82),
    (36.7, 5.76), (36.97, 5.69), (37.24, 5.65), (36.29, 5.62), (36.56, 5.55), (36.7, 5.44),
    (37.1, 5.48), (37.38, 5.41), (37.65, 5.34), (37.78, 5.86), (37.92, 5.79), (38.19, 5.76),
    (38.46, 5.72), (38.33, 5.58), (38.74, 5.62), (39.01, 5.55), (39.28, 5.58), (38.46, 5.34),
    (38.74, 5.41), (39.01, 5.3), (39.28, 5.37), (37.78, 5.27), (38.19, 5.2), (38.6, 5.16),
    (38.19, 6.1), (38.46, 5.96), (38.74, 6.03), (39.28, 5.86), (28.93, 5.48), (29.27, 5.43),
    (29.75, 5.34), (30.02, 5.34), (30.43, 5.2), (30.57, 5.27), (30.98, 5.48), (31.66, 5.48),
    (32.07, 5.41), (32.47, 5.27), (32.88, 5.37), (33.29, 5.3), (33.84, 5.48), (34.25, 5.41),
    (34.65, 5.34), (35.06, 5.27), (25.94, 5.48), (26.35, 5.37), (26.75, 5.44), (27.16, 5.34),
    (27.57, 5.41), (27.98, 5.3), (28.39, 5.34), (26.21, 5.2), (27.03, 5.16), (27.44, 5.23),
    (28.12, 5.16), (28.66, 5.2), (25.8, 4.71), (26.21, 4.64), (26.62, 4.71), (27.03, 4.78),
    (25.94, 4.54), (26.48, 4.5), (26.75, 4.43), (26.62, 4.36), (26.07, 4.23), (26.48, 4.16),
    (26.75, 4.09), (27.03, 4.02), (26.48, 4.02), (26.55, 3.81), (27.03, 3.81), (26.62, 3.74),
    (27.03, 3.67), (26.69, 3.53), (27.44, 4.64), (27.84, 4.68), (28.25, 4.75), (28.25, 4.57),
    (27.84, 4.4), (28.12, 4.36), (28.53, 4.3), (28.8, 4.4), (27.44, 4.26), (28.12, 4.09),
    (28.39, 4.02), (28.93, 4.71), (29.21, 4.71), (29.21, 4.54), (29.27, 4.37), (29.07, 4.23),
    (28.66, 3.81), (28.25, 3.63), (28.39, 3.56), (28.73, 3.43), (29.68, 4.09), (29.82, 4.02),
    (29.96, 3.88), (29.75, 3.74), (30.02, 3.67), (30.02, 4.61), (30.09, 4.5), (30.36, 4.4),
    (30.43, 4.33), (30.84, 4.43), (30.98, 4.37), (30.84, 4.54), (30.43, 4.16), (30.77, 4.12),
    (31.11, 4.05), (31.25, 3.98), (30.36, 3.91), (30.57, 3.81), (30.84, 3.74), (31.11, 3.67),
    (31.39, 4.75), (31.45, 4.71), (31.66, 4.57), (31.93, 4.47), (32.07, 4.37), (32.2, 4.3),
    (31.52, 4.16), (31.79, 4.09), (31.99, 4.02), (32.07, 3.91), (31.52, 3.81), (31.93, 3.74),
    (31.66, 3.67), (32.47, 4.75), (32.75, 4.57), (33.02, 4.5), (32.75, 4.36), (33.02, 4.3),
    (33.29, 4.16), (33.43, 4.02), (32.75, 3.91), (33.15, 3.84), (33.56, 3.78), (33.84, 4.82),
    (34.11, 4.78), (34.25, 4.71), (33.84, 4.5), (34.11, 4.43), (34.38, 4.36), (34.65, 4.3),
    (33.84, 4.23), (34.25, 4.12), (34.65, 4.05), (34.92, 3.95), (34.65, 3.84), (35.06, 3.78),
    (35.2, 3.67), (35.33, 4.5), (35.6, 4.36), (35.88, 4.23), (35.47, 4.09), (35.74, 4.02),
    (36.01, 3.91), (36.29, 4.4), (36.56, 4.37), (36.83, 4.23), (37.1, 4.16), (36.56, 3.84),
    (36.83, 3.78), (37.1, 3.71), (37.38, 3.67), (37.65, 4.36), (37.92, 4.3), (38.33, 4.23),
    (38.74, 4.16), (37.65, 3.95), (38.06, 3.84), (38.46, 3.78), (38.87, 3.74), (38.87, 4.36),
    (39.28, 4.3), (38.19, 3.6), (38.74, 3.53), (39.28, 3.56), (30.84, 3.6), (31.11, 3.46),
    (30.43, 3.36), (30.98, 3.32), (32.47, 3.56), (32.75, 3.46), (33.02, 3.36), (33.29, 3.32),
    (33.84, 3.56), (34.38, 3.46), (34.92, 3.39), (35.47, 3.36), (36.29, 3.46), (36.83, 3.39),
    (37.38, 3.32), (26.62, 3.32), (28.39, 3.32), (29.75, 3.32), (27.44, 3.46),
]

obs_upper_mid = [
    (24.65, 8.63), (26.26, 8.58), (25.97, 8.19), (27.86, 8.21), (24.43, 8.24), (27.57, 7.94),
    (26.02, 7.71), (29.2, 7.84), (29.47, 7.74), (30.82, 7.91), (27.45, 7.59), (27.67, 7.59),
    (29.2, 7.52), (25.87, 7.42), (27.57, 7.39), (30.6, 7.48), (32.41, 7.51), (30.73, 7.29),
    (30.73, 7.18), (30.96, 7.17), (24.65, 7.23), (24.83, 7.15), (26.29, 7.13), (33.92, 7.17),
    (32.32, 7.09), (32.19, 7.05), (28.99, 7.05), (27.86, 7.01), (25.86, 6.98), (27.42, 6.84),
    (29.2, 6.94), (29.27, 6.81), (32.45, 6.91), (33.9, 6.99), (35.22, 6.88), (26.02, 6.86),
    (30.64, 6.94), (30.75, 6.83), (25.39, 6.86), (25.78, 6.80), (33.73, 6.81), (33.78, 6.73),
    (34.1, 6.73), (26.48, 6.74), (27.65, 6.77), (35.75, 6.76), (31.44, 6.67), (32.17, 6.66),
    (30.75, 6.68), (35.24, 6.67), (25.17, 6.58), (25.57, 6.58), (26.75, 6.57), (27.53, 6.56),
    (33.87, 6.56), (31.05, 6.56), (35.35, 6.53), (35.75, 6.55), (37.39, 6.54), (24.43, 6.45),
    (24.83, 6.51), (25.88, 6.42), (25.69, 6.38), (26.86, 6.40), (26.2, 6.36), (26.51, 6.36),
    (28.81, 6.45), (29.14, 6.35), (30.37, 6.42), (31.41, 6.44), (31.44, 6.37), (32.65, 6.41),
    (33.65, 6.47), (33.78, 6.40), (35.38, 6.45), (35.48, 6.21), (42.06, 6.47), (35.64, 6.31),
    (36.66, 6.31), (38.12, 6.32), (38.98, 6.33), (39.51, 6.25), (40.55, 6.20), (42.06, 6.23),
    (40.86, 6.14), (43.64, 6.06), (44.84, 5.91), (45.93, 5.84), (48.16, 5.71), (47.03, 5.58),
    (48.16, 5.56), (47.5, 5.49), (49.04, 5.40), (49.44, 5.34), (50.44, 5.36), (51.27, 5.25),
    (51.82, 5.26), (52.46, 5.14), (53.1, 5.19), (45.2, 5.47), (45.51, 5.47), (45.69, 5.38),
    (46.15, 5.35), (46.51, 5.38), (45.15, 5.34), (44.51, 5.27), (44.14, 5.16), (43.6, 5.43),
    (43.42, 5.34), (43.78, 5.52), (42.69, 5.47), (42.56, 5.36), (43.24, 5.74), (43.2, 5.89),
    (42.06, 6.05), (42.06, 5.94), (42.06, 5.83), (42.06, 5.68), (42.06, 5.56), (41.95, 5.49),
    (41.58, 5.34), (41.22, 5.27), (41.04, 5.49), (41.4, 5.45), (40.86, 5.14), (40.49, 5.87),
    (40.49, 5.71), (40.58, 5.60), (40.53, 6.00), (39.87, 5.55), (39.85, 5.34), (39.76, 5.12),
    (39.58, 5.04), (39.95, 4.97), (39.4, 5.27), (39.21, 5.14), (39.03, 5.49), (38.85, 5.62),
    (38.49, 5.75), (38.49, 5.49), (38.12, 5.19), (38.3, 5.04), (37.94, 4.86), (37.9, 5.40),
    (37.57, 5.53), (37.39, 6.20), (37.39, 6.09), (37.12, 5.60), (37.03, 5.45), (36.84, 5.86),
    (36.66, 5.99), (36.48, 5.79), (36.48, 5.34), (36.57, 5.19), (36.29, 5.53), (36.11, 5.68),
    (35.93, 5.42), (35.66, 5.71), (35.38, 5.94), (35.47, 5.83), (35.2, 6.14), (35.02, 5.60),
    (34.93, 5.86), (34.93, 5.45), (34.75, 5.34), (34.93, 5.19), (34.56, 5.68), (34.43, 5.14),
    (34.1, 6.16), (34.1, 6.29), (34.01, 5.53), (33.83, 5.38), (33.65, 5.69), (33.56, 5.90),
    (33.38, 6.01), (33.28, 5.60), (33.19, 5.75), (33.1, 5.42), (32.92, 5.56), (32.65, 5.86),
    (32.47, 5.53), (32.28, 5.30), (32.1, 5.68), (32.0, 5.56), (31.92, 5.83), (31.73, 5.53),
    (31.64, 5.27), (31.55, 6.01), (31.46, 5.75), (31.37, 5.56), (31.19, 5.68), (31.0, 5.53),
    (30.82, 5.56), (30.73, 5.90), (30.55, 5.38), (30.46, 5.16), (30.37, 5.79), (30.37, 6.01),
    (29.91, 6.23), (29.91, 5.95), (29.87, 5.81), (29.82, 5.56), (29.91, 5.38), (29.45, 5.97),
    (29.36, 5.75), (29.27, 5.49), (29.09, 5.42), (29.0, 5.71), (28.81, 6.0), (28.78, 5.75),
    (28.72, 5.58), (28.63, 5.38), (28.27, 5.71), (28.18, 5.86), (28.18, 5.49), (28.08, 6.08),
    (27.81, 5.88), (27.72, 5.75), (27.81, 5.60), (27.63, 5.42), (27.53, 6.07), (27.35, 5.56),
    (27.26, 5.71), (27.17, 5.34), (26.99, 5.86), (26.9, 5.53), (26.81, 6.23), (26.71, 5.75),
    (26.62, 5.64), (26.53, 5.38), (26.44, 5.71), (26.26, 5.86), (26.22, 5.27), (26.08, 5.75),
    (26.04, 5.49), (25.89, 5.94), (25.8, 5.62), (25.71, 5.83), (25.62, 5.42), (25.44, 5.68),
    (25.26, 5.90), (25.17, 5.56), (25.08, 5.30), (24.89, 5.79), (24.71, 6.08), (24.61, 5.49),
    (24.52, 5.68), (24.98, 4.82), (25.53, 4.67), (26.62, 4.75), (28.08, 4.60), (29.18, 4.71),
    (31.37, 4.75), (32.1, 4.79), (33.74, 4.75), (34.29, 4.69), (38.3, 4.82), (42.3, 4.52),
    (44.14, 4.6), (45.05, 4.67), (46.33, 4.79), (47.42, 4.71), (48.52, 4.86), (49.62, 4.60),
    (50.71, 4.75), (51.8, 4.93), (52.72, 4.79), (42.68, 5.12), (43.04, 4.97), (43.78, 5.01),
    (44.87, 5.04), (45.97, 5.12), (46.15, 4.93), (46.88, 5.16), (47.61, 5.04), (48.16, 5.19),
    (48.89, 5.04), (49.62, 5.16), (50.16, 5.01), (50.71, 5.12), (51.26, 5.04), (51.99, 5.19),
    (52.17, 5.01),
]

obs_lower_mid = [
    (24.8, 4.47), (24.89, 4.17), (24.98, 3.84), (24.98, 3.46), (24.98, 3.17), (25.44, 3.05),
    (25.44, 2.83), (25.44, 2.61), (25.44, 2.55), (24.71, 1.30), (24.71, 1.08), (24.71, 0.97),
    (25.89, 4.32), (25.98, 4.02), (26.44, 3.72), (26.44, 3.17), (26.81, 3.17), (26.81, 3.02),
    (26.81, 2.83), (26.81, 2.72), (26.81, 2.53), (26.62, 3.58), (26.62, 3.52), (26.99, 3.84),
    (26.99, 4.10), (26.62, 4.54), (27.54, 4.25), (27.63, 0.86), (27.63, 0.76), (25.93, 0.43),
    (25.93, 0.35), (28.08, 1.86), (28.08, 1.75), (28.08, 1.64), (28.08, 1.53), (28.08, 1.32),
    (28.27, 3.61), (28.45, 3.43), (28.45, 3.28), (28.45, 2.76), (28.36, 4.0), (28.72, 4.47),
    (28.81, 4.17), (29.27, 1.94), (29.27, 1.79), (29.27, 1.68), (29.27, 1.60), (29.27, 1.51),
    (29.73, 3.37), (29.73, 3.28), (29.73, 3.17), (29.73, 2.61), (29.82, 3.84), (29.91, 4.02),
    (30.0, 3.65), (30.46, 4.32), (30.46, 4.10), (30.46, 3.95), (30.55, 3.87), (30.91, 3.32),
    (30.91, 3.28), (31.55, 3.80), (31.64, 3.74), (32.0, 3.04), (32.1, 3.13), (32.47, 4.47),
    (32.65, 3.13), (32.65, 2.87), (32.83, 4.06), (33.01, 3.72), (33.1, 2.72), (33.38, 4.21),
    (33.56, 4.06), (33.65, 4.47), (33.74, 3.39), (33.92, 3.87), (34.29, 3.28), (34.47, 4.28),
    (34.56, 3.69), (34.74, 2.86), (34.84, 3.95), (34.93, 3.80), (35.02, 4.32), (35.38, 3.06),
    (35.38, 3.32), (35.47, 4.24), (35.93, 3.39), (36.11, 4.10), (36.48, 3.58), (36.57, 3.84),
    (36.84, 4.17), (37.03, 2.87), (37.03, 2.68), (37.21, 3.58), (37.39, 3.13), (37.39, 3.50),
    (37.76, 3.91), (38.12, 4.36), (38.21, 3.28), (38.3, 3.72), (38.39, 2.87), (38.67, 3.50),
    (38.71, 2.05), (38.71, 1.79), (38.71, 1.71), (38.71, 1.64), (38.85, 2.98), (38.94, 3.91),
    (39.03, 3.76), (39.4, 4.32), (39.4, 3.65), (39.58, 3.20), (39.76, 2.57), (39.85, 3.09),
    (39.95, 2.87), (39.95, 3.39), (40.04, 3.95), (40.13, 4.47), (40.4, 1.30), (40.4, 1.19),
    (40.4, 1.06), (40.4, 0.91), (40.49, 3.28), (40.58, 3.61), (40.86, 3.09), (41.04, 3.46),
    (41.13, 2.57), (41.13, 2.42), (41.22, 2.98), (41.4, 3.80), (41.49, 2.87), (41.77, 3.65),
    (42.04, 1.53), (42.04, 1.45), (42.04, 1.27), (42.04, 3.28), (42.13, 2.98), (42.22, 4.21),
    (42.4, 2.38), (42.4, 2.31), (42.5, 3.20), (42.68, 3.58), (42.95, 3.24), (43.04, 3.65),
    (43.14, 2.76), (43.32, 2.98), (43.5, 3.28), (43.59, 3.46), (43.68, 2.27), (43.68, 2.23),
    (43.68, 1.17), (43.68, 0.97), (43.68, 0.80), (43.78, 2.94), (44.05, 2.76), (44.14, 2.50),
    (44.14, 3.46), (44.42, 3.09), (44.69, 3.58), (44.78, 3.20), (44.87, 2.09), (44.96, 2.42),
    (45.05, 2.91), (45.24, 1.12), (45.24, 1.01), (45.24, 0.86), (45.42, 3.35), (45.6, 2.76),
    (45.97, 2.12), (46.06, 3.06), (46.15, 3.58), (46.33, 2.83), (46.51, 3.28), (46.7, 2.61),
    (46.88, 2.42), (46.88, 1.64), (47.06, 1.97), (47.15, 2.20), (47.24, 3.13), (47.42, 2.76),
    (47.61, 2.46), (47.79, 3.46), (47.97, 3.02), (48.16, 2.72), (48.16, 2.16), (48.34, 3.28),
    (48.52, 2.38), (48.7, 2.83), (49.07, 1.82), (49.16, 2.61), (49.43, 2.46), (49.71, 2.53),
    (49.89, 1.75), (49.98, 3.13), (50.16, 1.86), (50.35, 2.38), (50.62, 2.01), (50.71, 2.83),
    (50.89, 2.46), (51.07, 2.09), (51.26, 1.75), (51.44, 1.71), (51.8, 2.27), (51.99, 2.61),
    (52.17, 1.64), (52.36, 1.79), (52.54, 2.31), (52.72, 2.09), (52.9, 2.46), (42.68, 4.17),
    (43.23, 3.95), (43.96, 4.32), (44.5, 4.02), (45.42, 4.39), (45.97, 3.95), (46.51, 4.24),
    (47.06, 3.76), (47.42, 4.47), (48.16, 4.02), (48.89, 3.65), (49.07, 4.24), (49.8, 3.46),
    (50.35, 3.95), (50.71, 3.28), (51.07, 3.72), (51.62, 4.32), (51.8, 3.20), (52.36, 3.46),
    (52.63, 4.02), (52.81, 2.98), (53.0, 4.47),
]

obs_decline = [
    (39.42, 5.72), (39.69, 5.65), (39.96, 5.77), (40.51, 5.79), (40.58, 5.69), (40.78, 5.58),
    (41.19, 5.72), (42.0, 5.82), (42.07, 5.65), (42.0, 5.51), (41.87, 5.44), (43.1, 5.72),
    (43.23, 5.65), (43.5, 5.79), (43.64, 5.62), (43.78, 5.51), (44.32, 5.72), (44.59, 5.79),
    (44.73, 5.55), (45.14, 5.48), (45.75, 5.82), (45.75, 5.65), (45.75, 5.51), (46.77, 5.6),
    (47.32, 5.51), (47.86, 5.51), (48.0, 5.72), (39.42, 5.34), (39.69, 5.2), (39.28, 5.13),
    (39.55, 5.03), (39.96, 5.16), (40.24, 5.27), (40.51, 5.34), (40.92, 5.23), (41.19, 5.16),
    (41.32, 5.06), (41.6, 4.99), (41.05, 4.99), (40.64, 4.92), (41.87, 5.23), (42.07, 5.16),
    (42.41, 5.13), (42.55, 5.03), (42.41, 4.92), (42.69, 4.82), (42.82, 4.71), (43.23, 5.44),
    (43.37, 5.34), (43.5, 5.23), (43.64, 5.13), (43.71, 5.03), (43.5, 4.89), (43.64, 4.82),
    (44.05, 5.34), (44.32, 5.23), (44.46, 5.13), (44.59, 5.03), (44.73, 4.89), (44.87, 4.82),
    (45.0, 4.68), (45.27, 5.34), (45.55, 5.27), (45.82, 5.16), (46.09, 5.06), (46.23, 4.96),
    (46.36, 4.85), (46.63, 4.71), (46.77, 4.64), (45.55, 4.5), (46.23, 4.47), (46.77, 4.4),
    (46.5, 4.33), (46.23, 4.54), (47.04, 5.34), (47.32, 5.23), (47.59, 5.09), (47.86, 4.99),
    (48.13, 4.85), (47.72, 4.78), (48.0, 4.68), (48.41, 4.71), (48.68, 5.34), (48.95, 5.2),
    (49.22, 5.06), (49.5, 4.96), (49.22, 4.82), (49.5, 4.71), (49.77, 4.61), (49.5, 4.47),
    (49.36, 4.36), (50.04, 5.27), (50.31, 5.16), (50.58, 5.03), (50.86, 4.89), (50.72, 4.71),
    (50.99, 4.61), (51.13, 4.47), (50.86, 4.33), (50.72, 4.23), (50.99, 4.12), (51.4, 5.2),
    (51.67, 5.09), (51.81, 4.96), (51.67, 4.82), (51.95, 4.71), (52.22, 4.61), (51.81, 4.47),
    (52.08, 4.36), (51.95, 4.26), (52.35, 4.19), (52.22, 4.05), (52.49, 3.98), (52.76, 5.09),
    (53.03, 4.96), (53.17, 4.82), (52.9, 4.68), (53.31, 4.54), (53.03, 4.4), (52.76, 4.26),
    (53.17, 4.12), (53.03, 5.23), (53.31, 5.16), (47.32, 4.61), (47.86, 4.54), (48.41, 4.47),
    (48.68, 4.36), (48.95, 4.26), (49.22, 4.19), (49.77, 4.33), (50.04, 4.26), (50.31, 4.12),
    (50.58, 4.05), (48.13, 4.19), (48.41, 4.12), (47.86, 4.33), (44.05, 4.64), (44.59, 4.61),
    (45.14, 4.54), (45.55, 4.64), (40.51, 4.36), (41.6, 4.33), (41.6, 4.23), (39.96, 4.12),
    (39.69, 4.16), (42.96, 4.71), (43.5, 4.64), (44.05, 4.4), (39.69, 4.12), (40.24, 3.98),
    (40.37, 3.84), (40.92, 3.95), (41.19, 3.91), (39.69, 3.7), (40.1, 3.6), (40.51, 3.63),
    (40.92, 3.67), (41.32, 3.67), (41.73, 3.77), (42.0, 3.7), (42.41, 3.77), (42.69, 3.7),
    (42.55, 3.6), (39.42, 3.43), (39.69, 3.29), (40.24, 3.36), (40.78, 3.32), (41.19, 3.43),
    (41.46, 3.46), (41.87, 3.36), (42.41, 3.22), (42.82, 3.15), (43.23, 3.29), (43.5, 3.08),
    (43.64, 2.97), (43.1, 3.43), (43.64, 3.5), (44.05, 3.46), (44.46, 3.63), (44.73, 3.56),
    (45.0, 3.5), (45.14, 3.7), (45.55, 3.67), (45.96, 3.63), (44.59, 3.29), (44.73, 3.18),
    (45.0, 3.08), (45.27, 2.97), (45.14, 2.87), (45.68, 3.43), (45.96, 3.32), (46.23, 3.22),
    (46.5, 3.11), (46.77, 3.01), (46.91, 2.9), (46.77, 2.8), (46.77, 3.7), (47.04, 3.63),
    (47.32, 3.57), (47.59, 3.46), (47.86, 3.36), (48.13, 3.22), (48.0, 3.15), (48.41, 3.08),
    (48.41, 3.63), (48.68, 3.57), (48.95, 3.5), (49.22, 3.43), (49.5, 3.36), (49.77, 3.22),
    (50.04, 3.15), (50.31, 3.01), (50.58, 2.9), (50.04, 3.63), (50.31, 3.57), (50.58, 3.5),
    (50.86, 3.43), (51.13, 3.36), (51.4, 3.29), (51.67, 3.22), (51.95, 3.15), (52.22, 3.08),
    (50.86, 3.08), (51.13, 2.94), (51.4, 2.8), (51.67, 2.73), (52.49, 3.36), (52.76, 3.22),
    (53.03, 3.08), (53.31, 2.94), (52.76, 2.87), (47.32, 2.8), (47.59, 2.73), (47.86, 2.66),
    (48.13, 2.59), (48.41, 2.52), (46.23, 2.73), (46.5, 2.63), (46.77, 2.52), (45.96, 2.52),
    (44.05, 2.8), (44.59, 2.77), (44.87, 2.66), (45.14, 2.42), (42.41, 2.8), (43.1, 2.8),
    (43.23, 2.7), (42.55, 2.38), (39.69, 2.87), (40.24, 2.73), (40.92, 3.08), (41.19, 3.08),
    (49.22, 2.8), (49.5, 2.73), (49.77, 2.66), (50.04, 2.56), (49.5, 2.49), (49.77, 2.52),
    (50.04, 2.49), (50.31, 2.45), (50.58, 2.52), (50.86, 2.49), (51.13, 2.52), (51.4, 2.45),
    (51.67, 2.38), (51.95, 2.56), (52.22, 2.45), (52.49, 2.38), (51.81, 2.94), (52.22, 2.87),
    (52.63, 2.8), (52.9, 2.73),
]

obs_tail = [
    (53.17, 5.23), (53.65, 5.15), (54.4, 5.2), (54.94, 5.08), (55.76, 5.09), (56.3, 5.01),
    (57.12, 5.03), (57.46, 4.99), (53.31, 4.89), (53.58, 4.75), (53.31, 4.61), (53.72, 4.47),
    (53.44, 4.33), (53.65, 4.19), (53.58, 4.05), (53.31, 3.95), (54.4, 5.03), (54.4, 4.85),
    (54.4, 4.64), (54.33, 4.47), (54.4, 4.33), (54.53, 4.19), (54.87, 4.89), (54.87, 4.75),
    (55.21, 4.64), (55.49, 4.57), (55.08, 4.47), (54.81, 4.36), (54.94, 4.23), (55.21, 4.12),
    (55.08, 4.02), (54.87, 3.95), (55.62, 4.85), (55.9, 4.78), (56.17, 4.82), (55.9, 4.64),
    (56.17, 4.54), (55.9, 4.43), (55.76, 4.3), (56.1, 4.19), (56.3, 4.09), (56.17, 3.98),
    (55.76, 3.88), (56.71, 4.78), (56.85, 4.64), (57.12, 4.71), (57.4, 4.82), (57.26, 4.54),
    (57.12, 4.43), (57.4, 4.3), (57.26, 4.16), (57.53, 4.02), (57.4, 3.88), (57.94, 4.61),
    (58.07, 4.47), (57.94, 4.33), (58.21, 4.19), (58.48, 4.36), (58.62, 4.26), (58.48, 4.12),
    (58.75, 4.54), (58.48, 4.82), (58.62, 4.89), (58.48, 3.98), (58.62, 3.88), (58.48, 3.67),
    (59.16, 4.54), (59.3, 4.43), (59.43, 4.36), (59.57, 4.3), (59.71, 4.22), (59.84, 4.16),
    (59.57, 4.78), (59.64, 4.71), (59.64, 4.61), (59.64, 4.5), (59.64, 3.88), (59.64, 3.64),
    (60.01, 3.53), (60.01, 3.74), (60.39, 4.3), (60.52, 4.19), (60.52, 4.02), (60.66, 3.91),
    (60.52, 3.81), (60.66, 3.7), (60.8, 3.6), (60.73, 4.78), (60.73, 4.68), (60.73, 4.57),
    (61.21, 4.09), (61.34, 3.98), (61.21, 3.88), (61.48, 3.77), (61.34, 3.67), (61.75, 4.5),
    (61.75, 4.4), (61.48, 4.33), (61.48, 4.23), (61.75, 3.39), (62.02, 4.02), (62.29, 3.95),
    (62.57, 3.88), (62.16, 3.81), (62.43, 3.74), (62.7, 3.67), (62.57, 3.6), (62.02, 3.64),
    (62.7, 4.3), (62.7, 4.19), (62.7, 4.09), (62.57, 4.02), (63.25, 4.23), (63.38, 4.16),
    (63.52, 4.09), (63.25, 4.02), (63.38, 3.88), (63.52, 3.77), (63.25, 3.67), (63.52, 3.53),
    (64.2, 4.12), (64.2, 3.95), (64.2, 3.81), (64.2, 3.67), (64.2, 3.53), (64.2, 3.36),
    (64.74, 4.61), (64.74, 4.54), (64.74, 4.33), (64.74, 4.19), (64.74, 3.98), (64.74, 3.84),
    (64.74, 3.74), (64.74, 3.6), (65.09, 3.95), (65.09, 3.84), (65.09, 3.74), (65.09, 3.29),
    (65.43, 3.88), (65.43, 3.77), (65.43, 3.46), (65.43, 3.36), (62.7, 5.25), (62.7, 5.13),
    (53.17, 3.6), (53.58, 3.53), (53.99, 3.39), (53.72, 3.29), (53.31, 3.18), (54.4, 3.39),
    (54.81, 3.25), (54.4, 3.11), (54.12, 2.97), (53.58, 2.9), (53.31, 2.8), (53.85, 2.77),
    (54.4, 2.94), (54.94, 2.84), (55.21, 2.77), (54.81, 2.7), (55.35, 2.59), (55.62, 2.56),
    (55.49, 3.25), (55.76, 3.11), (56.17, 3.18), (56.44, 3.08), (56.71, 2.97), (56.3, 2.9),
    (56.17, 2.8), (56.57, 2.7), (57.12, 3.36), (57.26, 3.25), (57.53, 3.18), (57.4, 3.04),
    (57.12, 2.94), (57.4, 2.84), (57.26, 2.7), (57.8, 3.25), (57.94, 3.11), (58.35, 3.25),
    (58.48, 3.08), (58.75, 3.01), (58.62, 2.9), (58.48, 2.77), (58.75, 2.7), (58.89, 3.32),
    (59.16, 3.18), (59.3, 3.04), (59.57, 2.94), (59.84, 2.9), (59.71, 2.84), (59.43, 2.7),
    (59.57, 2.77), (60.39, 3.18), (60.52, 3.04), (60.66, 2.9), (60.39, 2.84), (60.66, 2.77),
    (60.93, 2.66), (60.52, 2.56), (60.26, 2.7), (61.21, 3.04), (61.48, 2.94), (61.75, 2.9),
    (61.62, 2.8), (61.89, 2.73), (62.16, 2.66), (62.43, 2.63), (62.7, 2.59), (62.98, 2.56),
    (63.38, 2.56), (62.29, 3.04), (62.57, 2.97), (62.84, 2.9), (63.11, 2.84), (63.38, 2.77),
    (63.66, 2.7), (62.02, 3.32), (62.43, 3.18), (62.84, 3.11), (63.52, 3.18), (63.52, 3.04),
    (63.11, 2.94), (64.2, 3.11), (64.2, 2.97), (64.2, 2.84), (64.2, 2.73), (64.2, 2.56),
    (64.74, 2.97), (64.74, 2.87), (64.74, 2.7), (64.74, 2.63), (65.09, 2.97), (65.09, 2.7),
    (65.43, 2.9), (65.43, 2.7), (65.43, 2.63), (65.43, 2.42), (53.31, 2.45), (53.85, 2.24),
    (54.4, 2.28), (54.4, 2.1), (54.94, 1.97), (55.21, 2.14), (53.72, 2.04), (55.76, 2.24),
    (56.3, 2.21), (56.3, 2.04), (56.17, 1.97), (56.57, 2.05), (56.37, 2.45), (56.78, 2.45),
    (57.12, 2.35), (57.26, 2.21), (57.12, 2.1), (57.4, 1.83), (57.67, 2.28), (58.07, 2.21),
    (58.48, 2.28), (58.75, 2.21), (58.48, 2.07), (58.48, 1.79), (59.03, 2.35), (59.3, 2.28),
    (59.57, 2.21), (59.71, 2.07), (59.84, 1.97), (59.57, 1.76), (59.98, 1.76), (60.39, 2.17),
    (60.66, 2.21), (60.8, 2.04), (60.66, 1.86), (61.07, 1.86), (61.34, 2.0), (61.48, 1.72),
    (61.75, 2.31), (61.75, 2.17), (62.02, 2.0), (62.29, 1.9), (62.57, 1.79), (62.84, 1.86),
    (63.11, 1.76), (63.38, 1.72), (63.66, 1.79), (61.75, 1.65), (62.02, 1.72), (62.7, 2.35),
    (62.7, 2.28), (62.7, 2.21), (63.52, 2.35), (63.52, 2.24), (63.52, 2.07), (62.7, 1.51),
    (62.7, 1.45), (60.8, 1.45), (64.2, 2.0), (64.2, 1.9), (64.2, 1.79), (64.74, 1.93),
    (64.74, 1.86), (64.74, 1.72), (65.09, 2.21), (65.09, 1.86), (65.43, 1.79), (65.43, 1.69),
    (65.43, 1.62), (65.43, 1.41),
]

obs_upper_right = [
    (65.39, 9.64), (65.39, 7.25), (65.39, 6.77), (65.39, 6.50), (62.7, 5.38), (62.7, 5.25),
    (62.7, 5.12), (47.9, 5.71), (47.97, 5.52), (47.28, 5.49), (47.7, 5.38), (48.8, 5.34),
    (49.21, 5.36), (50.25, 5.38), (50.73, 5.27), (51.28, 5.19), (51.56, 5.23), (52.04, 5.16),
    (53.08, 5.23), (53.63, 5.14), (54.39, 5.21), (47.56, 5.04), (48.52, 4.97), (49.49, 5.01),
    (50.04, 4.93), (51.01, 4.97), (51.83, 4.86), (52.52, 5.01), (53.08, 4.82), (53.63, 4.90),
    (54.32, 4.93), (54.94, 5.08), (55.01, 4.86), (55.7, 5.08), (56.25, 4.97), (57.08, 5.03),
    (57.43, 4.86), (58.59, 4.86), (59.63, 4.75), (60.66, 4.79), (61.77, 4.52), (64.73, 4.60),
    (64.73, 4.50),
]

obs_lower_right = [
    (47.83, 4.62), (47.83, 4.39), (47.83, 4.21), (47.42, 4.21), (48.25, 4.62), (48.32, 4.47),
    (48.66, 4.58), (49.21, 4.54), (49.35, 4.36), (49.49, 4.21), (49.9, 4.62), (49.97, 4.39),
    (50.04, 4.13), (50.59, 4.32), (50.87, 4.47), (51.01, 4.17), (51.42, 4.58), (51.42, 4.28),
    (51.83, 4.47), (51.97, 4.21), (52.11, 3.99), (52.25, 4.62), (52.52, 4.39), (52.8, 4.21),
    (52.94, 4.06), (53.21, 4.58), (53.63, 4.39), (53.77, 4.21), (54.18, 4.47), (54.32, 4.02),
    (54.87, 4.24), (55.01, 4.54), (55.15, 4.02), (55.56, 4.54), (55.83, 4.24), (56.25, 4.39),
    (56.39, 4.10), (57.21, 4.47), (57.21, 4.21), (57.35, 3.84), (57.77, 4.24), (57.97, 4.62),
    (58.18, 4.36), (58.46, 4.47), (58.59, 4.21), (58.66, 4.02), (59.14, 4.39), (59.42, 4.28),
    (59.63, 4.62), (59.7, 3.95), (60.52, 4.54), (60.66, 4.13), (61.35, 4.32), (61.77, 4.47),
    (62.19, 4.24), (62.6, 3.95), (62.74, 4.13), (63.29, 4.21), (63.57, 4.10), (63.29, 3.76),
    (63.63, 3.76), (62.6, 3.76), (63.02, 3.80), (64.19, 4.10), (64.19, 3.84), (64.19, 3.69),
    (64.74, 4.58), (64.74, 4.32), (64.74, 4.17), (64.74, 3.91), (64.74, 3.80), (64.74, 3.69),
    (65.15, 4.06), (65.15, 3.91), (65.15, 3.80), (65.15, 3.72), (65.49, 3.84), (65.49, 3.76),
    (61.91, 3.76), (61.77, 3.65), (62.19, 3.69), (61.08, 3.76), (60.8, 3.95), (60.25, 4.02),
    (61.2, 4.06), (63.02, 3.99), (47.42, 3.58), (47.7, 3.39), (48.11, 3.54), (47.56, 3.20),
    (48.39, 3.58), (48.52, 3.28), (48.94, 3.43), (49.21, 3.65), (49.35, 3.20), (48.39, 3.05),
    (47.83, 2.91), (48.66, 2.76), (47.56, 2.76), (49.07, 2.61), (49.35, 2.46), (47.42, 2.46),
    (48.39, 2.38), (48.11, 2.16), (49.07, 2.16), (48.11, 1.86), (48.97, 1.79), (49.9, 1.75),
    (49.76, 2.50), (50.04, 2.80), (50.32, 3.46), (50.59, 3.20), (50.87, 3.61), (50.87, 2.91),
    (50.73, 2.76), (50.59, 2.50), (50.87, 2.35), (51.28, 3.39), (51.42, 3.09), (51.7, 3.24),
    (51.83, 2.83), (51.15, 2.57), (51.42, 2.46), (51.97, 2.31), (52.25, 2.46), (52.52, 2.38),
    (51.97, 2.09), (50.73, 2.09), (51.01, 2.16), (50.59, 2.01), (50.8, 1.66), (51.28, 1.71),
    (51.83, 1.71), (52.25, 1.64), (52.66, 1.69), (52.32, 1.60), (52.11, 3.09), (52.38, 3.46),
    (52.52, 3.20), (52.8, 2.98), (52.94, 2.76), (53.08, 3.39), (53.35, 3.13), (53.63, 2.91),
    (52.94, 2.16), (52.8, 1.90), (53.35, 2.46), (53.63, 2.05), (53.84, 2.23), (54.04, 3.28),
    (54.39, 3.58), (54.39, 3.02), (54.39, 2.79), (54.39, 2.61), (54.39, 2.27), (54.87, 2.76),
    (55.01, 2.09), (54.94, 3.28), (55.15, 2.12), (55.56, 2.57), (55.7, 3.09), (55.83, 3.28),
    (55.83, 2.23), (56.11, 2.80), (56.18, 1.94), (56.39, 3.58), (56.39, 2.46), (56.66, 3.05),
    (56.8, 2.42), (57.14, 3.39), (57.14, 2.83), (57.14, 2.72), (57.14, 2.61), (57.14, 2.23),
    (57.14, 2.12), (57.14, 1.38), (57.49, 2.46), (57.49, 1.83), (57.63, 2.91), (57.77, 3.09),
    (57.9, 2.23), (58.04, 3.28), (58.18, 2.76), (58.46, 2.31), (58.46, 2.05), (58.59, 1.79),
    (58.59, 2.98), (58.59, 2.61), (58.73, 2.16), (58.87, 3.13), (59.01, 1.94), (59.14, 3.32),
    (59.28, 2.83), (59.42, 2.42), (59.56, 1.79), (59.63, 3.13), (59.7, 2.98), (59.7, 2.68),
    (59.77, 2.09), (59.84, 1.94), (60.0, 1.75), (60.11, 2.91), (60.25, 2.35), (60.39, 2.80),
    (60.52, 1.71), (60.59, 3.02), (60.59, 2.61), (60.73, 2.16), (60.73, 1.45), (60.8, 2.39),
    (61.08, 2.83), (61.2, 2.05), (61.35, 2.98), (61.35, 1.71), (61.49, 2.68), (61.77, 2.23),
    (61.77, 2.46), (61.77, 2.01), (61.77, 1.64), (61.91, 2.91), (62.19, 2.80), (62.32, 1.86),
    (62.46, 2.61), (62.6, 1.75), (62.71, 2.31), (62.71, 2.23), (62.71, 1.49), (62.71, 1.42),
    (62.88, 2.94), (63.02, 1.83), (63.15, 2.87), (63.29, 2.50), (63.43, 1.71), (63.5, 3.13),
    (63.57, 2.35), (63.57, 1.94), (63.71, 2.80), (64.19, 2.98), (64.19, 2.50), (64.19, 2.01),
    (64.19, 1.86), (64.74, 1.94), (64.74, 1.75), (64.74, 2.98), (65.15, 2.91), (65.15, 2.68),
    (65.15, 2.61), (65.15, 2.23), (65.15, 1.75), (65.49, 1.79), (65.49, 1.71), (65.49, 1.60),
    (65.49, 1.42), (65.49, 1.28), (65.49, 0.95), (65.42, 2.38), (65.49, 2.53), (65.35, 2.83),
    (64.74, 2.20),
]

# ---------------------------------------------------------------------------
W, H = 1908, 1143
fig = plt.figure(figsize=(W / 100, H / 100), dpi=100)
ax = fig.add_axes([142 / W, 1 - 1066 / H, (1904 - 142) / W, (1066 - 58) / H])

pts = np.array(obs_upper_left + obs_lower_left + obs_low_cluster + obs_rise + obs_knee
               + obs_peak + obs_upper_mid + obs_lower_mid + obs_decline + obs_tail
               + obs_upper_right + obs_lower_right)
zero_y = np.array(obs_zero_y)

dot_col = "#d3d3d3"
ax.scatter(np.zeros_like(zero_y), zero_y, s=21, color=dot_col, linewidths=0, zorder=2)
ax.scatter(pts[:, 0], pts[:, 1], s=21, color=dot_col, linewidths=0, zorder=2)
ax.plot(ma_x, ma_y, color="black", lw=1.6, zorder=3)

ax.set_xlim(-3.26, 68.72)
ax.set_ylim(-0.356, 10.155)
ax.set_xticks([0, 20, 40, 60])
ax.set_xticks([10, 30, 50], minor=True)
ax.set_yticks([0, 2.5, 5, 7.5, 10])
ax.set_yticks([1.25, 3.75, 6.25, 8.75], minor=True)
ax.set_yticklabels(["0.0", "2.5", "5.0", "7.5", "10.0"])

ax.grid(which="major", color="#ebebeb", lw=1.1, zorder=0)
ax.grid(which="minor", color="#f2f2f2", lw=0.9, zorder=0)
ax.set_axisbelow(True)
ax.tick_params(which="major", length=5, width=1.1, color="#333333", pad=2,
               labelsize=21.5, labelcolor="#4d4d4d")
ax.tick_params(which="minor", length=0)
for lab in ax.get_xticklabels() + ax.get_yticklabels():
    lab.set_family("Liberation Sans")
for sp in ax.spines.values():
    sp.set_color("#555555")
    sp.set_linewidth(1.1)

fig.text(0.0223, 1 - 562 / H, "MAE (K)", rotation=90, ha="center", va="center",
         fontsize=30, family="Liberation Sans")
fig.text(1023 / W, 4 / H, "Solar elevation angle (°)", ha="center", va="baseline",
         fontsize=30, family="Liberation Sans")

# legend box, drawn in figure pixels
def fx(px):
    return px / W


def fy(py):
    return 1 - py / H


fig.add_artist(Rectangle((fx(1480), fy(277)), (1868 - 1480) / W, (277 - 136) / H,
                         transform=fig.transFigure, facecolor="white", edgecolor="black",
                         lw=2, zorder=5))
fig.add_artist(Line2D([fx(1540.5)], [fy(183.5)], marker="o", ls="", color="#bebebe",
                      markersize=15, transform=fig.transFigure, zorder=6))
fig.add_artist(Line2D([fx(1500), fx(1584)], [fy(235), fy(235)], color="black", lw=4.5,
                      solid_capstyle="butt", transform=fig.transFigure, zorder=6))
leg_font = {"family": "Lato", "weight": "bold", "size": 25}
fig.text(fx(1604), fy(194), "Observations", ha="left", va="baseline", zorder=6, **leg_font)
fig.text(fx(1604), fy(246), "Moving average", ha="left", va="baseline", zorder=6, **leg_font)

fig.savefig("out.png", dpi=100)
